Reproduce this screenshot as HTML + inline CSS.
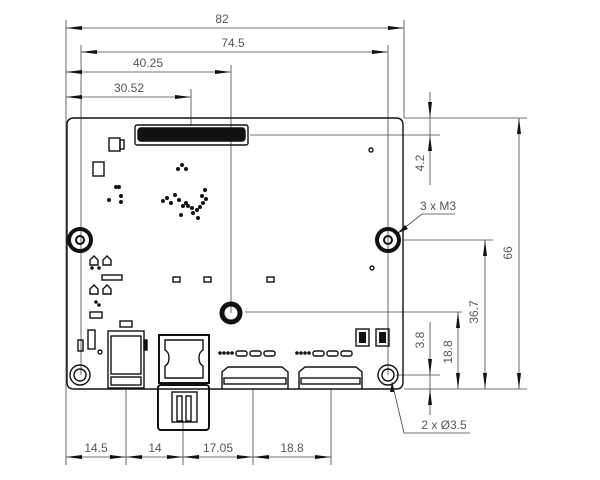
<!DOCTYPE html>
<html><head><meta charset="utf-8"><style>
html,body{margin:0;padding:0;background:#fff;width:600px;height:480px;overflow:hidden}
svg text{font-family:"Liberation Sans",sans-serif;fill:#555;font-size:12px}
</style></head><body>
<svg width="600" height="480" viewBox="0 0 600 480" xmlns="http://www.w3.org/2000/svg">
<g stroke="#444" stroke-width="0.8" fill="none">
<!-- extension lines -->
<line x1="66" y1="20" x2="66" y2="465"/>
<line x1="404" y1="20" x2="404" y2="118"/>
<line x1="81" y1="45" x2="81" y2="375"/>
<line x1="388" y1="45" x2="388" y2="375"/>
<line x1="231" y1="65" x2="231" y2="313"/>
<line x1="191" y1="89" x2="191" y2="126"/>
<!-- top dims -->
<line x1="66" y1="28" x2="404" y2="28"/>
<line x1="81" y1="52" x2="388" y2="52"/>
<line x1="66" y1="72" x2="231" y2="72"/>
<line x1="66" y1="97" x2="191" y2="97"/>
<!-- right dims -->
<line x1="404" y1="118" x2="527" y2="118"/>
<line x1="250" y1="135" x2="440" y2="135"/>
<line x1="404" y1="389" x2="527" y2="389"/>
<line x1="403" y1="240" x2="493" y2="240"/>
<line x1="245" y1="312" x2="462" y2="312"/>
<line x1="396" y1="375" x2="440" y2="375"/>
<line x1="519" y1="118" x2="519" y2="389"/>
<line x1="485" y1="240" x2="485" y2="389"/>
<line x1="458" y1="312" x2="458" y2="389"/>
<line x1="430" y1="92" x2="430" y2="185"/>
<line x1="430" y1="322" x2="430" y2="415"/>
<!-- leaders -->
<polyline points="398,233 422,214 455,214"/>
<polyline points="392,382 404,433 470,433"/>
<!-- bottom dims -->
<line x1="66" y1="457" x2="331" y2="457"/>
<line x1="126" y1="390" x2="126" y2="465"/>
<line x1="183" y1="420" x2="183" y2="465"/>
<line x1="253" y1="389" x2="253" y2="465"/>
<line x1="331" y1="389" x2="331" y2="465"/>
</g>
<g fill="#111">
<!-- arrows horizontal -->
<polygon points="66,28 82,26 82,30"/><polygon points="404,28 388,26 388,30"/>
<polygon points="81,52 97,50 97,54"/><polygon points="388,52 372,50 372,54"/>
<polygon points="66,72 82,70 82,74"/><polygon points="231,72 215,70 215,74"/>
<polygon points="66,97 82,95 82,99"/><polygon points="191,97 175,95 175,99"/>
<polygon points="66,457 82,455 82,459"/><polygon points="126,457 110,455 110,459"/>
<polygon points="126,457 142,455 142,459"/><polygon points="183,457 167,455 167,459"/>
<polygon points="183,457 199,455 199,459"/><polygon points="253,457 237,455 237,459"/>
<polygon points="253,457 269,455 269,459"/><polygon points="331,457 315,455 315,459"/>
<!-- arrows vertical -->
<polygon points="519,118 517,134 521,134"/><polygon points="519,389 517,373 521,373"/>
<polygon points="485,240 483,256 487,256"/><polygon points="485,389 483,373 487,373"/>
<polygon points="458,312 456,328 460,328"/><polygon points="458,389 456,373 460,373"/>
<polygon points="430,118 428,102 432,102"/><polygon points="430,135 428,151 432,151"/>
<polygon points="430,375 428,359 432,359"/><polygon points="430,389 428,405 432,405"/>
<polygon points="398,233 405,225 408,229"/>
<polygon points="392,382 390,392 394,392"/>
</g>
<!-- texts -->
<text x="222" y="23" text-anchor="middle">82</text>
<text x="233" y="47" text-anchor="middle">74.5</text>
<text x="148" y="67" text-anchor="middle">40.25</text>
<text x="129" y="92" text-anchor="middle">30.52</text>
<text x="96" y="452" text-anchor="middle">14.5</text>
<text x="155" y="452" text-anchor="middle">14</text>
<text x="218" y="452" text-anchor="middle">17.05</text>
<text x="292" y="452" text-anchor="middle">18.8</text>
<text x="438" y="210" text-anchor="middle">3 x M3</text>
<text x="444" y="429" text-anchor="middle">2 x Ø3.5</text>
<text transform="translate(512,253) rotate(-90)" text-anchor="middle">66</text>
<text transform="translate(478,312) rotate(-90)" text-anchor="middle">36.7</text>
<text transform="translate(452,352) rotate(-90)" text-anchor="middle">18.8</text>
<text transform="translate(424,340) rotate(-90)" text-anchor="middle">3.8</text>
<text transform="translate(424,163) rotate(-90)" text-anchor="middle">4.2</text>
<!-- board -->
<g stroke="#111" fill="none" stroke-width="1.4">
<path d="M74,118 H396 Q403,118 403,125 V382 Q403,389 396,389 H74 Q67,389 67,382 V125 Q67,118 74,118 Z"/>
<rect x="135" y="125" width="113" height="20" rx="2"/>
<rect x="138" y="128" width="107" height="13" rx="3" fill="#111"/>
<rect x="109" y="138" width="11" height="13"/><rect x="120" y="140" width="4" height="9"/>
<rect x="93" y="162" width="11" height="14"/>
<!-- holes -->
<circle cx="80" cy="240" r="11" stroke-width="4"/><circle cx="80" cy="240" r="4" stroke-width="2"/>
<circle cx="388" cy="240" r="11" stroke-width="4"/><circle cx="388" cy="240" r="4" stroke-width="2"/>
<circle cx="231" cy="313" r="9" stroke-width="5"/>
<circle cx="80" cy="375" r="10"/><circle cx="80" cy="375" r="6"/>
<circle cx="388" cy="375" r="10"/><circle cx="388" cy="375" r="6"/>
<circle cx="371" cy="150" r="2"/><circle cx="372" cy="268" r="2"/><circle cx="100" cy="352" r="2"/>
<!-- USB -->
<rect x="108" y="331" width="36" height="57"/><rect x="111" y="336" width="30" height="38"/>
<rect x="111" y="377" width="30" height="8"/><rect x="144" y="340" width="3" height="10" fill="#111"/>
<rect x="120" y="321" width="12" height="6"/>
<!-- RJ -->
<rect x="159" y="335" width="50" height="48" stroke-width="2"/>
<path d="M165,340 H203 V350 Q199,352 199,358 Q199,364 203,366 V378 H165 V366 Q169,364 169,358 Q169,352 165,350 Z"/>
<rect x="158" y="385" width="51" height="45" rx="3" stroke-width="2"/>
<rect x="172" y="392" width="25" height="30"/>
<rect x="177" y="396" width="5" height="25"/><rect x="186" y="396" width="5" height="25"/>
<!-- FPC -->
<path d="M222,389 V372 L228,367 H282 L288,372 V389"/><rect x="224" y="378" width="62" height="6"/>
<path d="M299,389 V372 L305,367 H356 L362,372 V389"/><rect x="301" y="378" width="59" height="6"/>
<!-- small pads -->
<rect x="236" y="351" width="11" height="5" rx="2"/><rect x="250" y="351" width="11" height="5" rx="2"/><rect x="264" y="351" width="11" height="5" rx="2"/>
<rect x="313" y="351" width="11" height="5" rx="2"/><rect x="327" y="351" width="11" height="5" rx="2"/><rect x="341" y="351" width="11" height="5" rx="2"/>
<rect x="356" y="329" width="13" height="17"/><rect x="376" y="329" width="13" height="17"/>
<rect x="90" y="312" width="12" height="6"/><rect x="88" y="330" width="7" height="19"/><rect x="78" y="340" width="5" height="11"/>
<rect x="173" y="277" width="7" height="5"/><rect x="204" y="277" width="7" height="5"/><rect x="267" y="277" width="7" height="5"/>
<rect x="102" y="275" width="20" height="5"/>
</g>
<g fill="#fff" stroke="#111" stroke-width="1.4">
<path d="M90,260 l4,-4 l4,4 v5 h-8 z"/><path d="M103,260 l4,-4 l4,4 v5 h-8 z"/>
<path d="M90,289 l4,-4 l4,4 v5 h-8 z"/><path d="M103,289 l4,-4 l4,4 v5 h-8 z"/>
</g>
<g fill="#111">
<circle cx="220" cy="353" r="1.8"/><circle cx="224" cy="353" r="1.8"/><circle cx="228" cy="353" r="1.8"/><circle cx="232" cy="353" r="1.8"/>
<circle cx="297" cy="353" r="1.8"/><circle cx="301" cy="353" r="1.8"/><circle cx="305" cy="353" r="1.8"/><circle cx="309" cy="353" r="1.8"/>
<rect x="359" y="332" width="7" height="11"/><rect x="379" y="332" width="7" height="11"/>
<circle cx="182" cy="165" r="2"/><circle cx="178" cy="169" r="2"/><circle cx="186" cy="169" r="2"/>
<circle cx="116" cy="187" r="2"/><circle cx="119" cy="187" r="2"/><circle cx="109" cy="200" r="2"/><circle cx="121" cy="196" r="2"/><circle cx="121" cy="202" r="2"/>
<circle cx="163" cy="201" r="2"/><circle cx="167" cy="198" r="2"/><circle cx="171" cy="203" r="2"/><circle cx="175" cy="195" r="2"/>
<circle cx="179" cy="200" r="2"/><circle cx="183" cy="206" r="2"/><circle cx="186" cy="203" r="2"/><circle cx="181" cy="215" r="2"/>
<circle cx="192" cy="208" r="2"/><circle cx="193" cy="213" r="2"/><circle cx="197" cy="210" r="2"/><circle cx="200" cy="207" r="2"/>
<circle cx="203" cy="203" r="2"/><circle cx="206" cy="199" r="2"/><circle cx="202" cy="196" r="2"/><circle cx="205" cy="190" r="2"/>
<circle cx="198" cy="218" r="2"/><circle cx="188" cy="206" r="2"/>
<circle cx="92" cy="268" r="1.8"/><circle cx="99" cy="268" r="1.8"/><circle cx="96" cy="302" r="1.8"/><circle cx="99" cy="305" r="1.8"/>
</g>
</svg>
</body></html>
